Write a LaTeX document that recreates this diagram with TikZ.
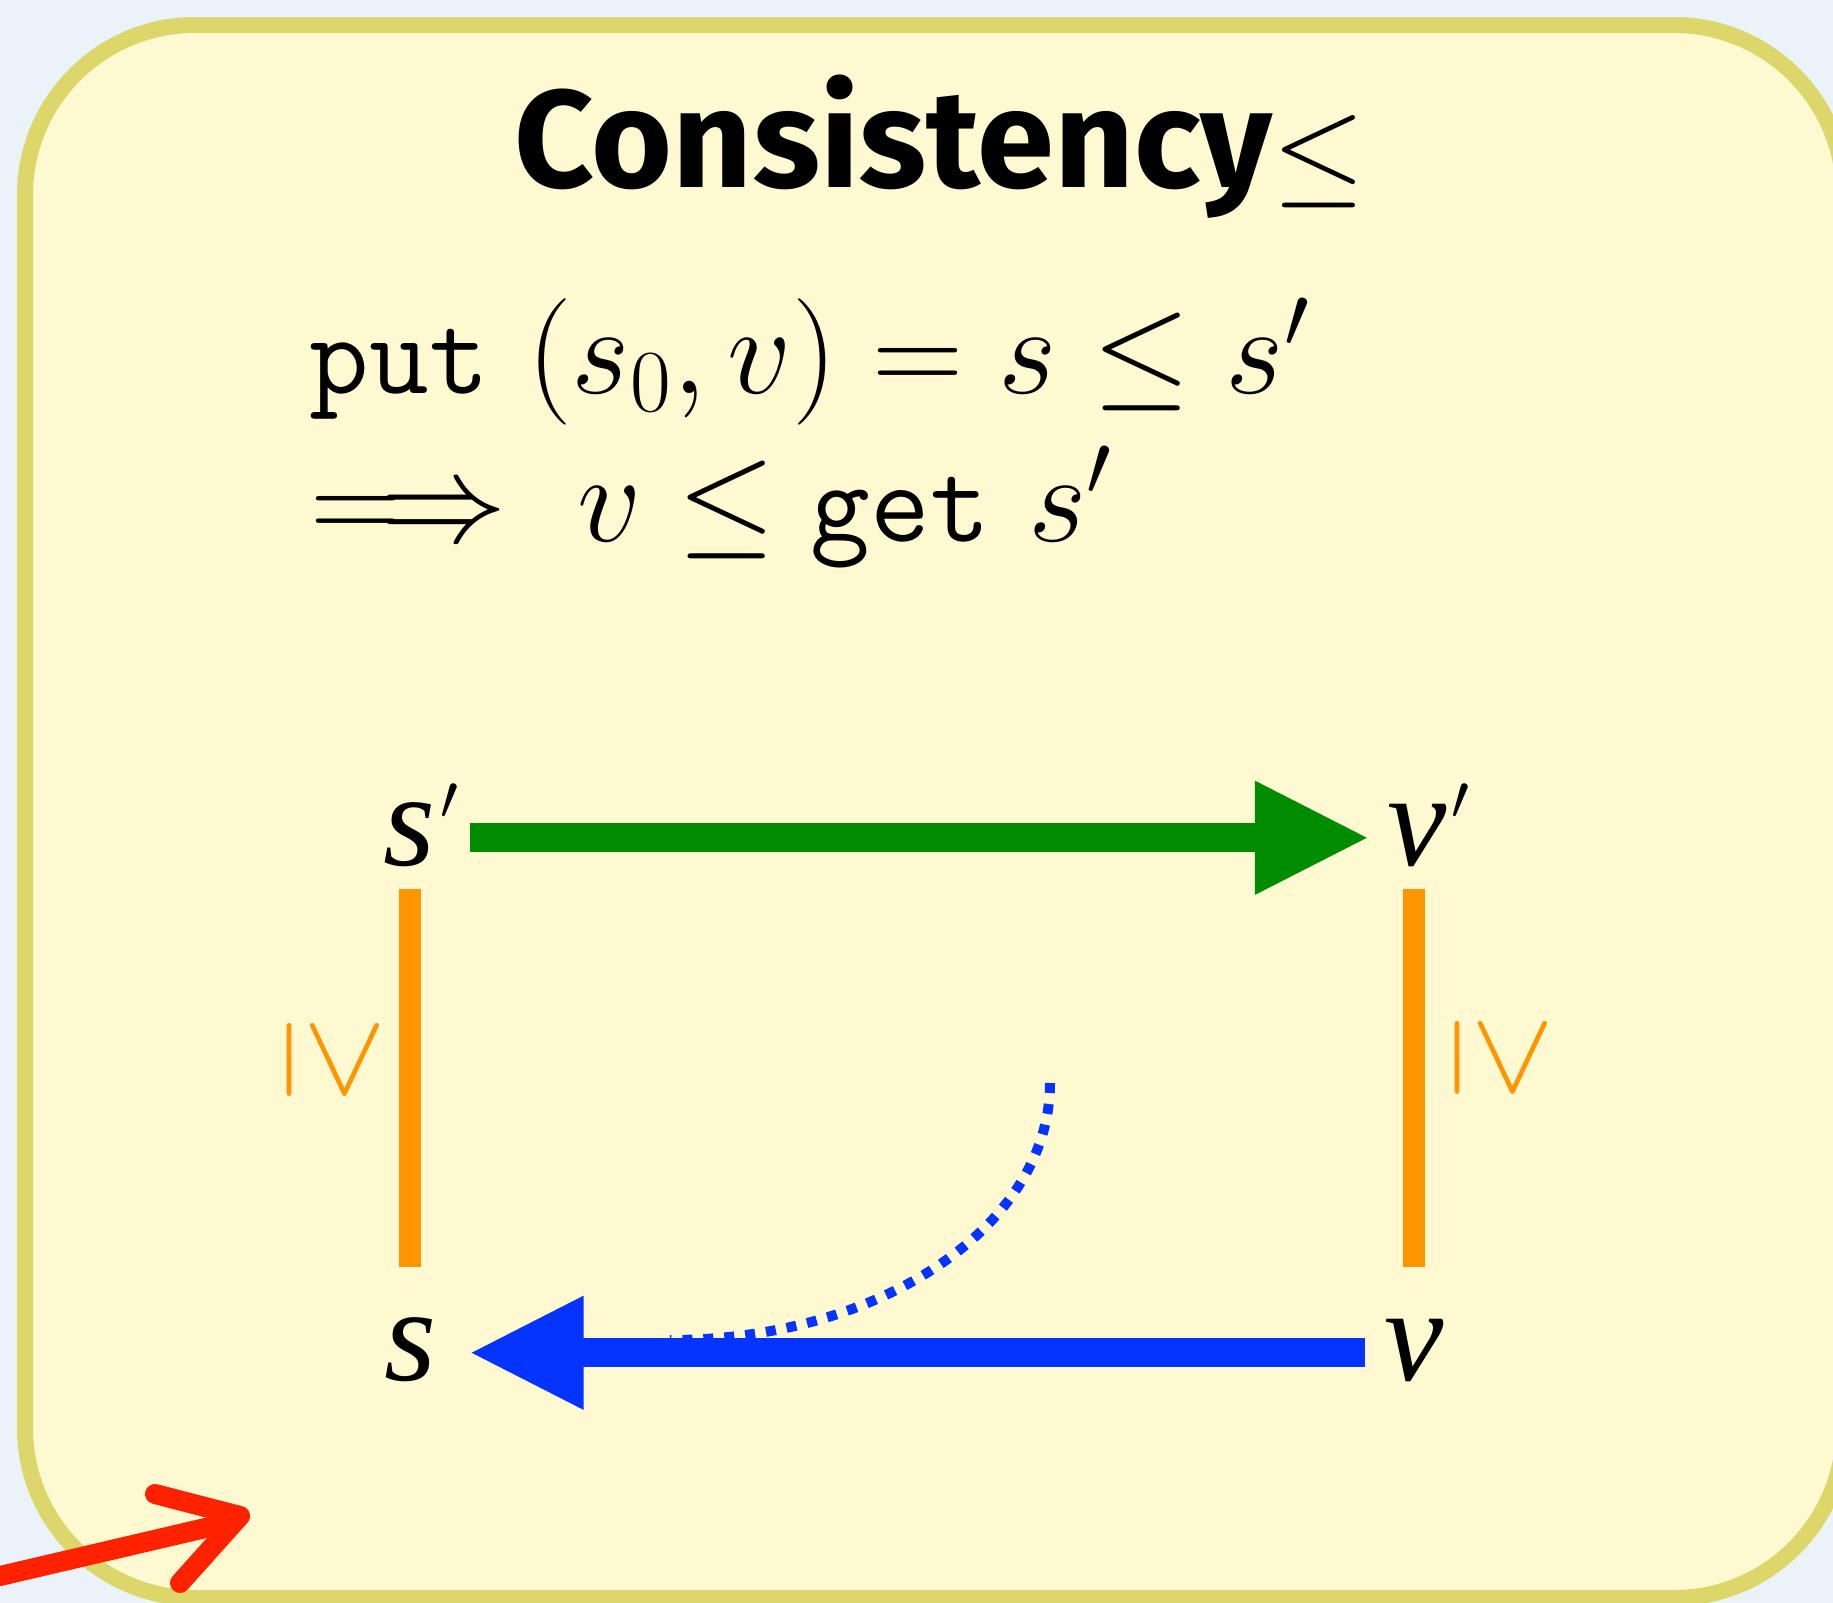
\RequirePackage{fix-cm}
\documentclass[tikz,border=0pt]{standalone}
\usepackage{fontspec}
\usetikzlibrary{arrows.meta,positioning}
\newfontfamily\titlefont{Fira Sans}
\newfontfamily\labelfont{Liberation Serif}
\definecolor{backdrop}{HTML}{EAF3F8}
\definecolor{paper}{HTML}{FFF9D1}
\definecolor{rim}{HTML}{DCD66B}
\definecolor{getgreen}{HTML}{008C00}
\definecolor{putblue}{HTML}{0533FF}
\definecolor{leqorange}{HTML}{FF9500}
\definecolor{scribblered}{HTML}{FF2200}
% small raised prime for the corner labels
\newcommand{\cornerprime}{\kern1.5pt{\fontsize{26}{26}\selectfont\raisebox{3.4pt}{$'$}}}
% typewriter words inside the law
\newcommand{\lenscode}[1]{\mbox{\fontsize{33}{40}\selectfont\ttfamily #1}}

\begin{document}
\begin{tikzpicture}[x=0.1mm,y=-0.1mm,
  lbl/.style={inner sep=0pt,anchor=base,text height=15.5pt,text depth=0pt,font=\labelfont\itshape\fontsize{38}{40}\selectfont},
  formula/.style={inner sep=0pt,anchor=base west,font=\fontsize{36}{44}\selectfont},
  leqmark/.style={leqorange,rotate=-90,inner sep=0pt,font=\fontsize{34}{36}\selectfont},
  getarrow/.style={getgreen,line width=2.9mm,-{Triangle[length=11.5mm,width=10.5mm]}},
  putarrow/.style={putblue,line width=2.9mm,-{Triangle[length=11.5mm,width=10.5mm]}},
  leqbar/.style={leqorange,line width=2.2mm},
  scribble/.style={scribblered,line width=2mm,line cap=round,line join=round}]
\useasboundingbox (0,0) rectangle (1833,1603);
\clip (0,0) rectangle (1833,1603);
\fill[backdrop] (0,0) rectangle (1833,1603);
\draw[rim,fill=paper,line width=1.6mm,rounded corners=17mm] (25,25) rectangle (1844,1598);
% pointer in the corner
\draw[scribble] (0,1576)--(214,1526);
\draw[scribble] (155,1494)--(240,1516)--(180,1583);
% heading and law
\node[inner sep=0pt,anchor=base,font=\fontsize{39.5}{48}\selectfont] (title) at (940,187)
  {{\titlefont\bfseries Consistency}{\fontsize{34}{34}\selectfont\raisebox{-1.4pt}{$\leq$}}};
\node[formula] (putline) at (309,393) {$\lenscode{put}\ (s_0, v) = s \leq s'$};
\node[formula] (getline) at (310,541) {$\Longrightarrow\; v \leq \lenscode{get}\ s'$};
% the square
\node[lbl] (sp) at (422,865) {s\cornerprime};
\node[lbl] (vp) at (1429,865) {v\cornerprime};
\node[lbl] (s) at (410,1380) {s};
\node[lbl] (v) at (1414,1380) {v};
\node[leqmark] (leqleft) at (333,1060) {$\geq$};
\node[leqmark] (leqright) at (1501,1058) {$\geq$};
\draw[leqbar,shorten <=2.3mm,shorten >=5.8mm] (s |- sp.south) -- (s.north);
\draw[leqbar,shorten <=2.3mm,shorten >=5.8mm] (v |- vp.south) -- (v.north);
\draw[getarrow,shorten <=0.9mm,shorten >=1.65mm] (sp) -- (vp);
\coordinate (bendtop) at (1050,1083);
\coordinate (bendend) at (670,1340);
\draw[putblue,line width=1mm,dash pattern=on 1mm off 1.1mm] (bendtop) .. controls +(0,142) and +(212,0) .. (bendend);
\draw[putarrow,shorten <=1.9mm,shorten >=3.2mm] (v) -- (s);
\end{tikzpicture}
\end{document}
